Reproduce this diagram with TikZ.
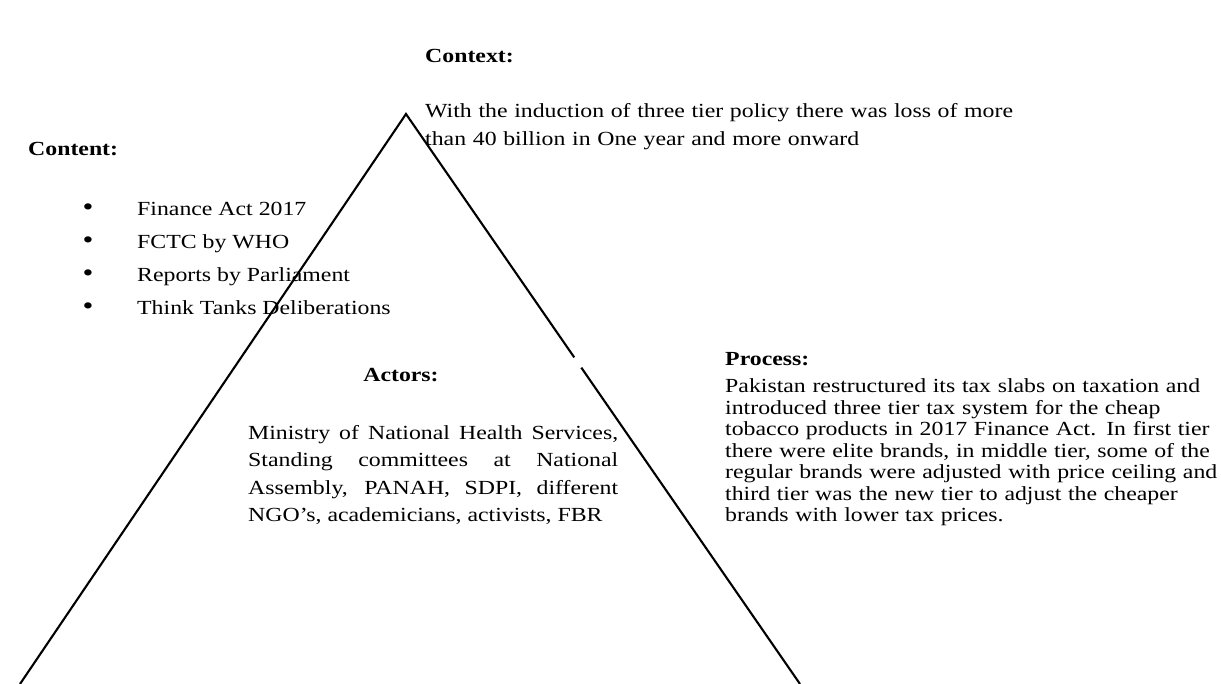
\documentclass[tikz,border=0pt]{standalone}
\usepackage{fontspec}
\setmainfont{Liberation Serif}[FakeStretch=1.19]
\usetikzlibrary{calc}
\tikzset{
  heading/.style={font=\fontsize{20}{24}\selectfont\bfseries, anchor=base west, inner sep=0pt},
  bodytext/.style={font=\fontsize{20}{#1}\selectfont, anchor=base west, inner sep=0pt},
  bodytext/.default=24,
  dot/.style={font=\fontsize{26}{26}\selectfont, anchor=base, inner sep=0pt},
  side/.style={line width=2.1pt, black},
}

\begin{document}
\begin{tikzpicture}[x=1pt, y=-1pt]
    \useasboundingbox (0,0) rectangle (1221,684);
    % triangle, open at the bottom
    \coordinate (apex) at (406,114);
    \coordinate (lfoot) at (20,684);
    \coordinate (rfoot) at (800,684);
    \coordinate (rgapa) at ($(apex)!0.427!(rfoot)$);
    \coordinate (rgapb) at ($(apex)!0.445!(rfoot)$);
    \draw[side] (lfoot) -- (apex) -- (rgapa);
    \draw[side] (rgapb) -- (rfoot);
    % context
    \node (ctxhead) at (425,63) [heading] {Context:};
    \node (ctxbody) at (425,118) [bodytext=28, text width=640pt, align=left]
      {With the induction of three tier policy there was loss of more\\
       than 40 billion in One year and more onward};
    % content
    \node (conhead) at (28,156) [heading] {Content:};
    \foreach \txt [count=\i] in {Finance Act 2017, FCTC by WHO, Reports by Parliament, Think Tanks Deliberations} {
      \node (bul\i) at (88,{216+32.7*(\i-1)}) [dot] {•};
      \node (item\i) at (137,{216+32.7*(\i-1)}) [bodytext] {\txt};
    }
    % actors
    \node (acthead) at (401,382) [heading, anchor=base] {Actors:};
    \node (actbody) at (248,439) [bodytext=27.5, text width=370pt, align=justify]
      {Ministry of National Health Services,\linebreak
       Standing committees at National\linebreak
       Assembly, PANAH, SDPI, different\linebreak
       NGO’s, academicians, activists, FBR};
    % process
    \node (prohead) at (725,366) [heading] {Process:};
    \node (probody) at (725,393) [bodytext=21.5, text width=540pt, align=left]
      {Pakistan restructured its tax slabs on taxation and\\
       introduced three tier tax system for the cheap\\
       tobacco products in 2017 Finance Act. In first tier\\
       there were elite brands, in middle tier, some of the\\
       regular brands were adjusted with price ceiling and\\
       third tier was the new tier to adjust the cheaper\\
       brands with lower tax prices.};
\end{tikzpicture}
\end{document}
